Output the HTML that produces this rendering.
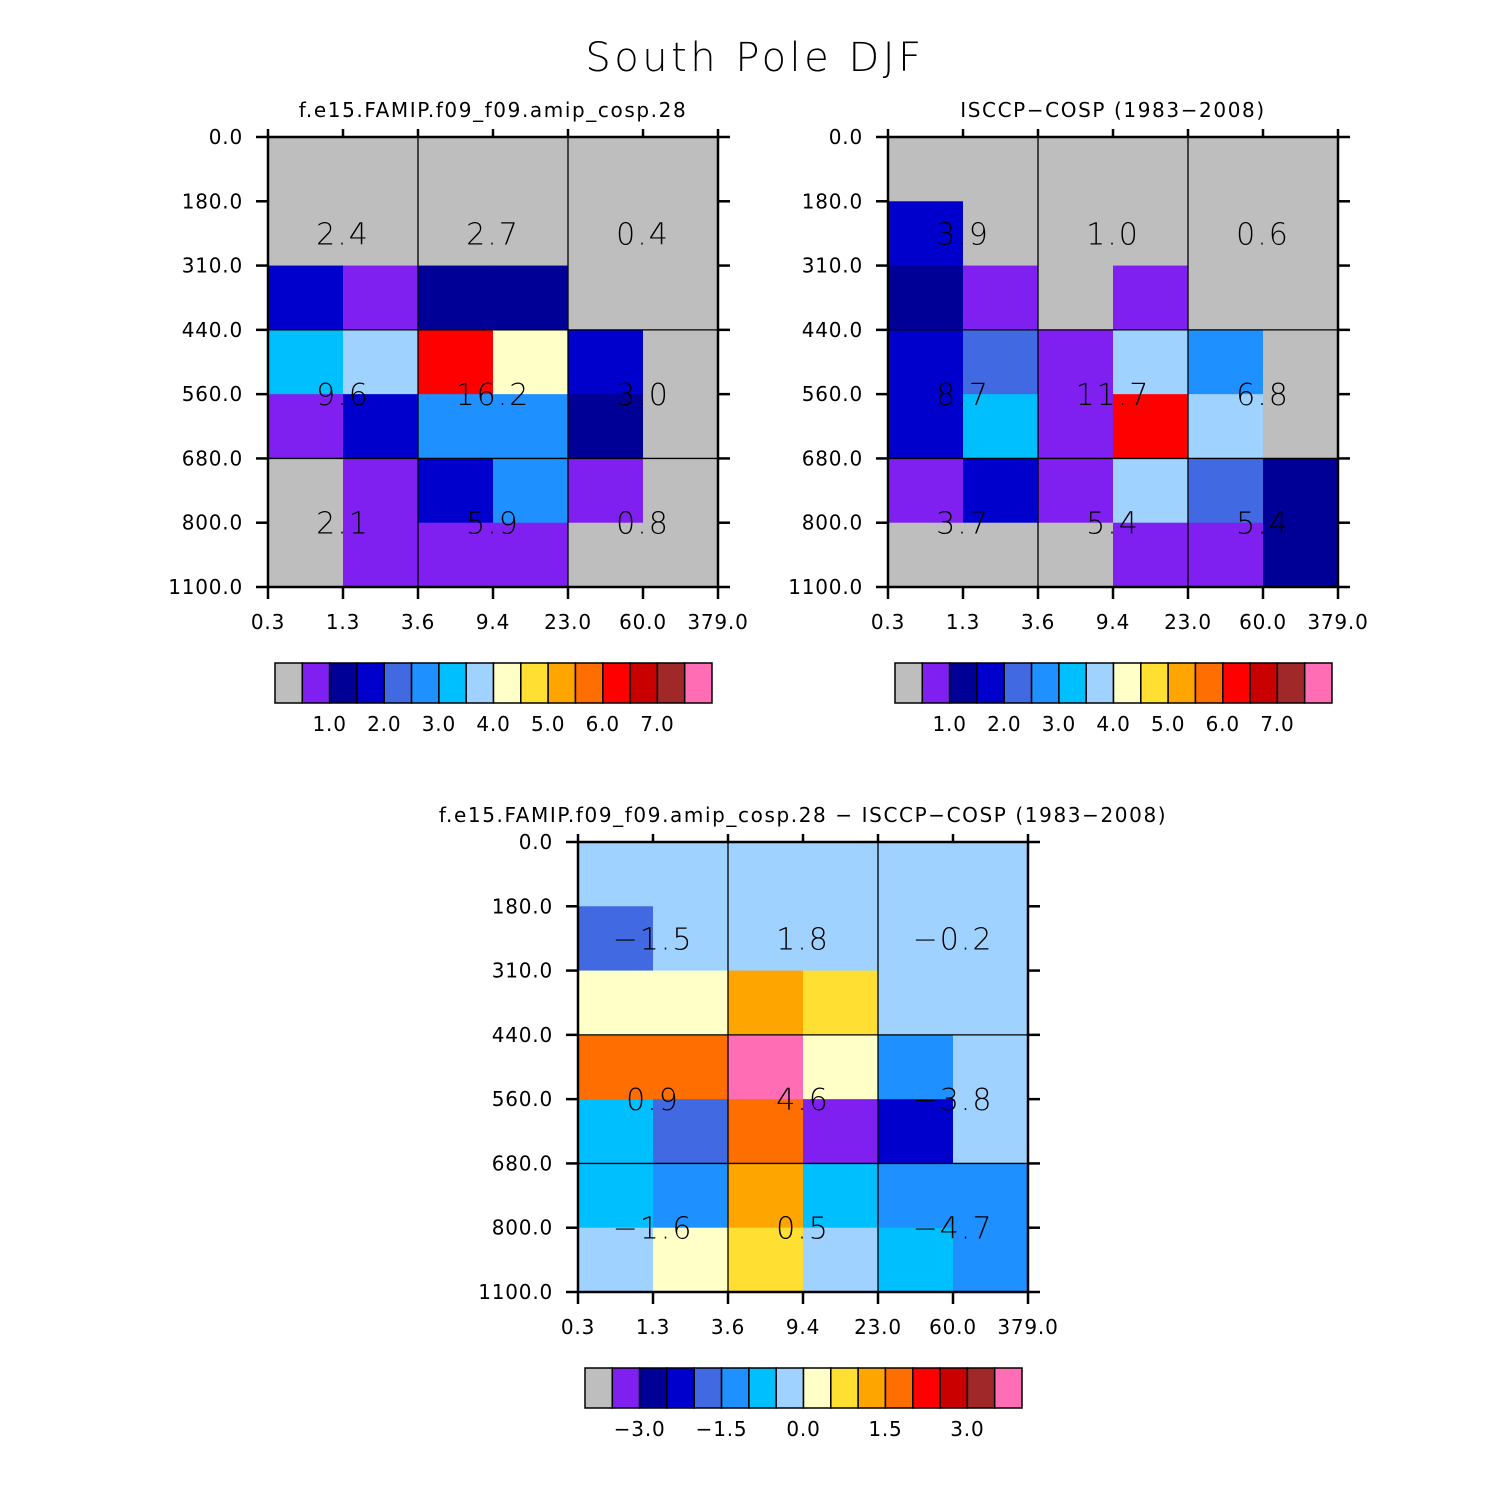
<!DOCTYPE html>
<html><head><meta charset="utf-8"><style>
html,body{margin:0;padding:0;background:#fff}
svg{display:block;font-family:"DejaVu Sans","Liberation Sans",sans-serif}
</style></head><body>
<svg id="chart" width="1510" height="1510" viewBox="0 0 1510 1510" xmlns="http://www.w3.org/2000/svg">
<rect width="1510" height="1510" fill="#fff"/>
<text x="755" y="71" font-size="40" text-anchor="middle" fill="#000" font-weight="200" letter-spacing="3.5">South Pole DJF</text>
</svg>
<script>
const colors = ["#BEBEBE","#8020F0","#000096","#0000CD","#4169E1","#1E90FF","#00BFFF","#A0D2FF","#FFFFC8","#FFE032","#FFA500","#FF6E00","#FF0000","#C80000","#A02828","#FF6EB4"];
const xTicks = ["0.3","1.3","3.6","9.4","23.0","60.0","379.0"];
const yTicks = ["0.0","180.0","310.0","440.0","560.0","680.0","800.0","1100.0"];
const modelValues = [
 [0.2,0.2,0.2,0.2,0.2,0.2],
 [0.2,0.2,0.2,0.2,0.2,0.2],
 [1.8,0.8,1.2,1.2,0.2,0.2],
 [3.2,3.8,6.2,4.2,1.8,0.2],
 [0.8,1.8,2.8,2.8,1.2,0.2],
 [0.2,0.8,1.8,2.8,0.8,0.2],
 [0.2,0.8,0.8,0.8,0.2,0.2]];
const obsValues = [
 [0.2,0.2,0.2,0.2,0.2,0.2],
 [1.8,0.2,0.2,0.2,0.2,0.2],
 [1.2,0.8,0.2,0.8,0.2,0.2],
 [1.8,2.2,0.8,3.8,2.8,0.2],
 [1.8,3.2,0.8,6.2,3.8,0.2],
 [0.8,1.8,0.8,3.8,2.2,1.2],
 [0.2,0.2,0.2,0.8,0.8,1.2]];
const diffValues = [
 [-0.2,-0.2,-0.2,-0.2,-0.2,-0.2],
 [-1.8,-0.2,-0.2,-0.2,-0.2,-0.2],
 [0.2,0.2,1.2,0.8,-0.2,-0.2],
 [1.8,1.8,3.8,0.2,-1.2,-0.2],
 [-0.8,-1.8,1.8,-3.2,-2.2,-0.2],
 [-0.8,-1.2,1.2,-0.8,-1.2,-1.2],
 [-0.2,0.2,0.8,-0.2,-0.8,-1.2]];
const modelTotals = ["2.4","2.7","0.4","9.6","16.2","3.0","2.1","5.9","0.8"];
const obsTotals = ["3.9","1.0","0.6","8.7","11.7","6.8","3.7","5.4","5.4"];
const diffTotals = ["\u22121.5","1.8","\u22120.2","0.9","4.6","\u22123.8","\u22121.6","0.5","\u22124.7"];
const absLevels = [0.5,1,1.5,2,2.5,3,3.5,4,4.5,5,5.5,6,6.5,7,7.5];
const diffLevels = [-3.5,-3,-2.5,-2,-1.5,-1,-0.5,0,0.5,1,1.5,2,2.5,3,3.5];
const absLabels = ["1.0","2.0","3.0","4.0","5.0","6.0","7.0"];
const absLabelIdx = [1,3,5,7,9,11,13];
const diffLabels = ["\u22123.0","\u22121.5","0.0","1.5","3.0"];
const diffLabelIdx = [1,4,7,10,13];

const NS="http://www.w3.org/2000/svg";
const svg=document.getElementById('chart');
function mk(tag,attrs,parent){const e=document.createElementNS(NS,tag);for(const k in attrs)e.setAttribute(k,attrs[k]);(parent||svg).appendChild(e);return e;}
function colorFor(v,levels){let i=0;while(i<levels.length&&v>=levels[i])i++;return colors[i];}

function panel(name,px,py,title,vals,totals,levels,labels,labelIdx){
  const W=450,H=450,nC=6,nR=7;
  const g=mk('g',{});
  
  
  const xs=c=>px+c*W/nC, ys=r=>py+r*H/nR;
  const t=mk('text',{x:px+W/2,y:py-20,'font-size':20,'text-anchor':'middle','letter-spacing':1.6},g);t.textContent=title;
  
  
  for(let r=0;r<nR;r++)for(let c=0;c<nC;c++){
    const cell=mk('rect',{x:xs(c),y:ys(r),width:W/nC+0.5,height:H/nR+0.5,fill:colorFor(vals[r][c],levels)},g);
    
    
  }
  [3,5].forEach(r=>mk('line',{x1:px,x2:px+W,y1:ys(r),y2:ys(r),stroke:'#000','stroke-width':1.3},g));
  [2,4].forEach(c=>mk('line',{x1:xs(c),x2:xs(c),y1:py,y2:py+H,stroke:'#000','stroke-width':1.3},g));
  const blocks=[[0,3],[3,5],[5,7]];
  let k=0;
  blocks.forEach(b=>{const cy=(ys(b[0])+ys(b[1]))/2;
    [1,3,5].forEach(c=>{const tt=mk('text',{x:xs(c),y:cy+11,'font-size':30,'text-anchor':'middle',fill:'#000','font-weight':300,'letter-spacing':2},g);tt.textContent=totals[k++];
      
      });});
  mk('rect',{x:px,y:py,width:W,height:H,fill:'none',stroke:'#000','stroke-width':2.5},g);
  for(let c=0;c<=nC;c++){
    mk('line',{x1:xs(c),x2:xs(c),y1:py+H,y2:py+H+12,stroke:'#000','stroke-width':2.5},g);
    mk('line',{x1:xs(c),x2:xs(c),y1:py,y2:py-8,stroke:'#000','stroke-width':2.5},g);
    const tl=mk('text',{x:xs(c),y:py+H+42,'font-size':20,'text-anchor':'middle','letter-spacing':0.8},g);tl.textContent=xTicks[c];
    
    
  }
  for(let r=0;r<=nR;r++){
    mk('line',{x1:px,x2:px-12,y1:ys(r),y2:ys(r),stroke:'#000','stroke-width':2.5},g);
    mk('line',{x1:px+W,x2:px+W+12,y1:ys(r),y2:ys(r),stroke:'#000','stroke-width':2.5},g);
    const tl=mk('text',{x:px-25,y:ys(r)+7,'font-size':20,'text-anchor':'end','letter-spacing':0.8},g);tl.textContent=yTicks[r];
    
    
  }
  const cx=px+7,cy=py+526,cw=437/16,ch=40;
  for(let i=0;i<16;i++){
    const b=mk('rect',{x:cx+i*cw,y:cy,width:cw,height:ch,fill:colors[i],stroke:'#000','stroke-width':1.5},g);
    
    
  }
  labels.forEach((l,i)=>{const tl=mk('text',{x:cx+(labelIdx[i]+1)*cw,y:cy+ch+28,'font-size':20,'text-anchor':'middle','letter-spacing':0.8},g);tl.textContent=l;
    
    });
}
panel('model-panel',268,137,'f.e15.FAMIP.f09_f09.amip_cosp.28',modelValues,modelTotals,absLevels,absLabels,absLabelIdx);
panel('obs-panel',888,137,'ISCCP\u2212COSP (1983\u22122008)',obsValues,obsTotals,absLevels,absLabels,absLabelIdx);
panel('difference-panel',578,842,'f.e15.FAMIP.f09_f09.amip_cosp.28 \u2212 ISCCP\u2212COSP (1983\u22122008)',diffValues,diffTotals,diffLevels,diffLabels,diffLabelIdx);
</script>
</body></html>
